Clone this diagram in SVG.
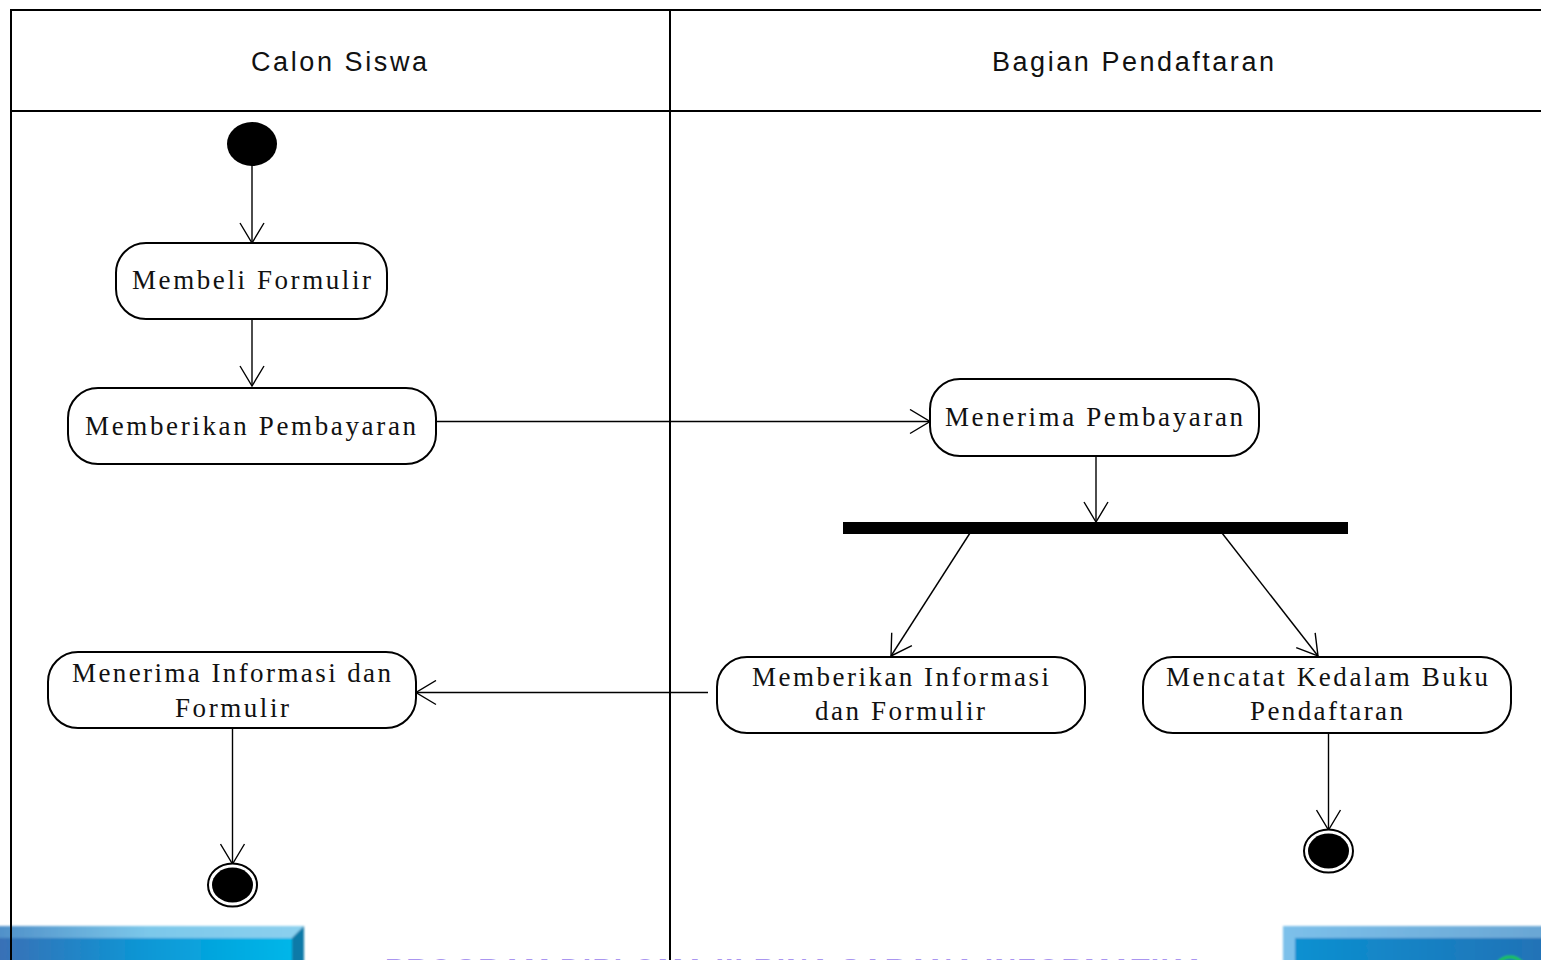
<svg xmlns="http://www.w3.org/2000/svg" width="1541" height="960" viewBox="0 0 1541 960">
<style>
.lane{stroke:#000;stroke-width:2;fill:none}
.node{fill:#fff;stroke:#000;stroke-width:2}
.conn{stroke:#000;stroke-width:1.4;fill:none;marker-end:url(#open)}
.hd{font-family:"Liberation Sans",Arial,sans-serif;font-size:27px;fill:#111;text-anchor:start}
.lb{font-family:"Liberation Serif","Times New Roman",serif;font-size:27px;fill:#111;text-anchor:start}
.ban{font-family:"Liberation Sans",Arial,sans-serif;font-size:30px;font-weight:bold;fill:#a995f0}
</style>
<defs>
<marker id="open" viewBox="0 0 22 26" refX="21" refY="13" markerWidth="22" markerHeight="26" markerUnits="userSpaceOnUse" orient="auto">
<path d="M1 1 L21 13 L1 25" fill="none" stroke="#000" stroke-width="1.4"/>
</marker>
<linearGradient id="bl" x1="0" x2="1" y1="0" y2="0"><stop offset="0" stop-color="#3a6fb5"/><stop offset=".5" stop-color="#0a98d6"/><stop offset="1" stop-color="#00b9ea"/></linearGradient>
<linearGradient id="bl2" x1="0" x2="1" y1="0" y2="0"><stop offset="0" stop-color="#4f8fc8"/><stop offset=".5" stop-color="#7cc8ea"/><stop offset="1" stop-color="#8cd0ee"/></linearGradient>
<linearGradient id="br" x1="0" x2="1" y1="0" y2="0"><stop offset="0" stop-color="#0a92d2"/><stop offset="1" stop-color="#2272b6"/></linearGradient>
<linearGradient id="br2" x1="0" x2="1" y1="0" y2="0"><stop offset="0" stop-color="#7cc0ea"/><stop offset="1" stop-color="#6aa6d4"/></linearGradient>
<filter id="soft"><feGaussianBlur stdDeviation="0.8"/></filter>
</defs>
<rect width="1541" height="960" fill="#fff"/>
<g id="banner">
<g filter="url(#soft)">
<rect x="-5" y="926" width="309" height="40" fill="url(#bl)"/>
<rect x="-5" y="926" width="309" height="12" fill="url(#bl2)"/>
<polygon points="304,926 304,966 292,966 292,938" fill="#0a7aa8"/>
<rect x="1283" y="926" width="264" height="40" fill="url(#br)"/>
<rect x="1283" y="926" width="264" height="12" fill="url(#br2)"/>
<polygon points="1283,926 1295,938 1295,966 1283,966" fill="#7cc0ea"/>
<circle cx="1510" cy="972" r="15" fill="none" stroke="#1fc84a" stroke-width="3"/>
</g>
<text class="ban" x="385" y="978.5" textLength="820" lengthAdjust="spacing">PROGRAM DIPLOMA III BINA SARANA INFORMATIKA</text>
</g>
<g id="swimlanes">
<path class="lane" d="M11 960V10H1541M670 10V960M11 111H1541"/>
<text class="hd" x="251" y="71" textLength="176" lengthAdjust="spacing">Calon Siswa</text>
<text class="hd" x="992" y="71" textLength="282" lengthAdjust="spacing">Bagian Pendaftaran</text>
</g>
<g id="connectors">
<path class="conn" d="M252 165V243"/>
<path class="conn" d="M252 319V386"/>
<path class="conn" d="M437 421.500H930"/>
<path class="conn" d="M1096 456V522"/>
<path class="conn" d="M970 533L891 656"/>
<path class="conn" d="M1222 533L1318 656"/>
<path class="conn" d="M708 692.500H416"/>
<path class="conn" d="M232.500 729V864"/>
<path class="conn" d="M1328.500 734V830"/>
</g>
<g id="start"><ellipse cx="252" cy="144" rx="25" ry="22" fill="#000"/></g>
<g id="membeli-formulir"><rect class="node" x="116" y="243" width="271" height="76" rx="30" ry="30"/><text class="lb" x="132" y="289" textLength="239" lengthAdjust="spacing">Membeli Formulir</text></g>
<g id="memberikan-pembayaran"><rect class="node" x="68" y="388" width="368" height="76" rx="30" ry="30"/><text class="lb" x="85" y="435" textLength="331" lengthAdjust="spacing">Memberikan Pembayaran</text></g>
<g id="menerima-pembayaran"><rect class="node" x="930" y="379" width="329" height="77" rx="30" ry="30"/><text class="lb" x="945" y="426" textLength="298" lengthAdjust="spacing">Menerima Pembayaran</text></g>
<g id="fork"><rect x="843" y="522" width="505" height="12" fill="#000"/></g>
<g id="memberikan-informasi"><rect class="node" x="717" y="657" width="368" height="76" rx="30" ry="30"/><text class="lb" x="752" y="686" textLength="297" lengthAdjust="spacing">Memberikan Informasi</text><text class="lb" x="815" y="720" textLength="170" lengthAdjust="spacing">dan Formulir</text></g>
<g id="mencatat"><rect class="node" x="1143" y="657" width="368" height="76" rx="30" ry="30"/><text class="lb" x="1166" y="686" textLength="322" lengthAdjust="spacing">Mencatat Kedalam Buku</text><text class="lb" x="1250" y="720" textLength="153" lengthAdjust="spacing">Pendaftaran</text></g>
<g id="menerima-informasi"><rect class="node" x="48" y="652" width="368" height="76" rx="30" ry="30"/><text class="lb" x="72" y="682" textLength="319" lengthAdjust="spacing">Menerima Informasi dan</text><text class="lb" x="175" y="717" textLength="114" lengthAdjust="spacing">Formulir</text></g>
<g id="end-left"><ellipse cx="232.500" cy="885" rx="24.500" ry="21.500" fill="#fff" stroke="#000" stroke-width="2"/><ellipse cx="232.500" cy="885" rx="20.500" ry="17.500" fill="#000"/></g>
<g id="end-right"><ellipse cx="1328.500" cy="851" rx="24.500" ry="21.500" fill="#fff" stroke="#000" stroke-width="2"/><ellipse cx="1328.500" cy="851" rx="20.500" ry="17.500" fill="#000"/></g>
</svg>
